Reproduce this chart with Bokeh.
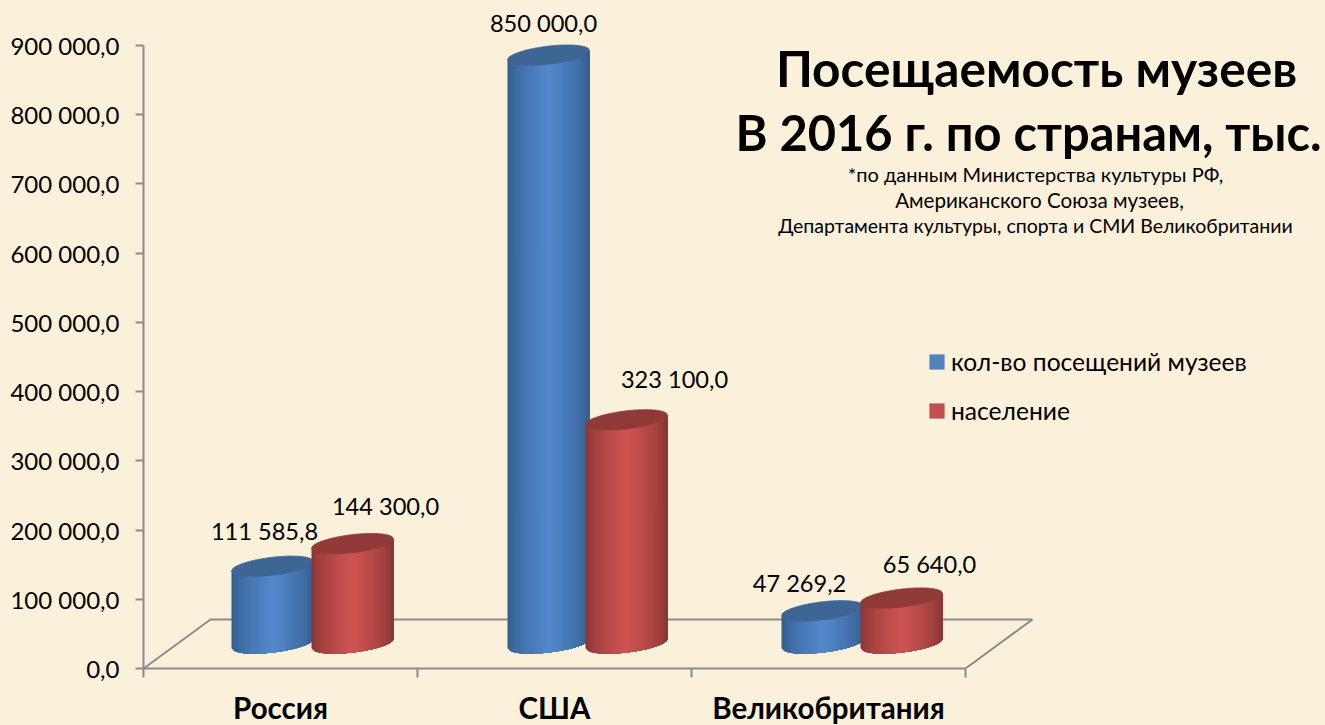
import numpy as np
from bokeh.plotting import figure
from bokeh.models import Range1d, FixedTicker, Legend, LegendItem, Label
from bokeh.core.properties import value
from bokeh.embed import file_html
from bokeh.resources import INLINE

# ---- data ----
categories = ["Россия", "США", "Великобритания"]
visits = [111585.8, 850000.0, 47269.2]
population = [144300.0, 323100.0, 65640.0]
visits_labels = ["111 585,8", "850 000,0", "47 269,2"]
population_labels = ["144 300,0", "323 100,0", "65 640,0"]
y_ticks = [0, 100000, 200000, 300000, 400000, 500000, 600000, 700000, 800000, 900000]
y_tick_labels = ["0,0", "100 000,0", "200 000,0", "300 000,0", "400 000,0",
                 "500 000,0", "600 000,0", "700 000,0", "800 000,0", "900 000,0"]
series_names = ["кол-во посещений музеев", "население"]
title_lines = ["Посещаемость музеев", "В 2016 г. по странам, тыс."]
note_lines = ["*по данным Министерства культуры РФ,", "Американского Союза музеев,",
              "Департамента культуры, спорта и СМИ Великобритании"]

# ---- layout (page pixels) ----
W, H = 1325, 725
AX_L, AX_B = 143, 668          # axis origin
PX_CAT = 274.0                 # px per category
PX_VAL = 623.0 / 900000.0      # px per value
FONT = "Lato"
BG = "#fbf1da"
AXIS = "#8b8b8b"

def dx(px):
    return px / PX_CAT

def dy(px):
    return px / PX_VAL

def X(px):
    return (px - AX_L) / PX_CAT

def Y(px):
    return (AX_B - px) / PX_VAL

p = figure(width=W, height=H, frame_width=W - AX_L, frame_height=AX_B,
           output_backend="svg", toolbar_location=None,
           x_range=Range1d(0, X(W)), y_range=Range1d(0, Y(0)),
           min_border_left=AX_L, min_border_right=0, min_border_top=0,
           min_border_bottom=H - AX_B, background_fill_color=BG,
           border_fill_color=BG, outline_line_color=None)
p.xgrid.visible = False
p.ygrid.visible = False

# ---- axes ----
ya = p.yaxis[0]
ya.ticker = FixedTicker(ticks=y_ticks)
ya.major_label_overrides = {t: s for t, s in zip(y_ticks, y_tick_labels)}
ya.bounds = (0, 900000)
ya.axis_line_color = AXIS
ya.axis_line_width = 2
ya.major_tick_line_color = AXIS
ya.major_tick_line_width = 2
ya.major_tick_in = 0
ya.major_tick_out = 8
ya.minor_tick_line_color = None
ya.major_label_standoff = 16
ya.major_label_text_font = FONT
ya.major_label_text_font_size = "24px"
ya.major_label_text_color = "#000000"

xa = p.xaxis[0]
xa.ticker = FixedTicker(ticks=[0.5, 1.5, 2.5], minor_ticks=[0, 1, 2, 3])
xa.major_label_overrides = {i + 0.5: c for i, c in enumerate(categories)}
xa.bounds = (0, 3)
xa.axis_line_color = AXIS
xa.axis_line_width = 2
xa.major_tick_line_color = None
xa.major_tick_in = 0
xa.major_tick_out = 0
xa.minor_tick_line_color = AXIS
xa.minor_tick_line_width = 2
xa.minor_tick_in = 0
xa.minor_tick_out = 9
xa.major_label_standoff = 12
xa.major_label_text_font = FONT
xa.major_label_text_font_style = "bold"
xa.major_label_text_font_size = "29.5px"
xa.major_label_text_color = "#000000"

# ---- floor ----
DEPTH_X, DEPTH_Y = dx(67), dy(49)
p.line([0, DEPTH_X, 3 + DEPTH_X, 3], [0, DEPTH_Y, DEPTH_Y, 0], line_color=AXIS, line_width=2)

# ---- cylinders ----
BAR_A = 41.0    # half width, px
BAR_B = 9.0     # half height of the top ellipse, px
SHEAR = 0.115   # rise of the ellipse towards the right
BASE = dy(25)   # base centre above the axis line
STRIPS = 40

def mix(c1, c2, t):
    return "#%02x%02x%02x" % tuple(int(round(a + (b - a) * t)) for a, b in zip(c1, c2))

def cylinder(xc_cat, val, dark, light, top):
    # each strip runs to the right edge and is painted over by the next, so no seams show
    edges = np.linspace(-1, 1, STRIPS + 1)
    xs, ys, cols = [], [], []
    for a, b in zip(edges[:-1], edges[1:]):
        u = np.linspace(a, 1, 24)
        px = u * BAR_A
        sh = -SHEAR * px
        el = BAR_B * np.sqrt(np.clip(1 - u ** 2, 0, 1))
        x_data = xc_cat + dx(1) * px
        lower = BASE + dy(1) * (-sh - el)
        upper = BASE + val + dy(1) * (-sh - el)
        xs.append(list(x_data) + list(x_data[::-1]))
        ys.append(list(lower) + list(upper[::-1]))
        t = np.clip(1 - abs((a + b) / 2), 0, 1) ** 0.6
        cols.append(mix(dark, light, t))
    p.patches(xs, ys, fill_color=cols, line_color=None)
    u = np.linspace(-1, 1, 61)
    px = u * BAR_A
    el = BAR_B * np.sqrt(1 - u ** 2)
    cx = list(xc_cat + dx(1) * px) + list((xc_cat + dx(1) * px)[::-1])
    cy = list(BASE + val + dy(1) * (SHEAR * px - el)) + list((BASE + val + dy(1) * (SHEAR * px + el))[::-1])
    p.patch(cx, cy, fill_color=top, line_color=top, line_width=0.8)

BLUE_X = [X(272), X(548), X(822)]
RED_X = [X(352), X(626), X(901)]

# flat bars below the cylinders: they also feed the legend
r_blue = p.vbar(x=BLUE_X, bottom=BASE, top=[BASE + v for v in visits], width=dx(40),
                fill_color="#4f81bd", line_color=None)
r_red = p.vbar(x=RED_X, bottom=BASE, top=[BASE + v for v in population], width=dx(40),
               fill_color="#c0504d", line_color=None)

BLUE_D, BLUE_L, BLUE_T = (48, 88, 136), (83, 136, 203), "#3d6695"
RED_D, RED_L, RED_T = (130, 50, 48), (205, 84, 82), "#8f3a38"
for xc, v, xr, w in zip(BLUE_X, visits, RED_X, population):
    cylinder(xc, v, BLUE_D, BLUE_L, BLUE_T)
    cylinder(xr, w, RED_D, RED_L, RED_T)

# ---- value labels ----
LAB_FS = "23.6px"
blue_off = [(-8, 35), (-5, 32), (-23, 28)]
red_off = [(33, 38), (48, 41), (28, 34)]
for xs_, vals, texts, offs in ((BLUE_X, visits, visits_labels, blue_off),
                               (RED_X, population, population_labels, red_off)):
    p.text(x=[x + dx(o[0]) for x, o in zip(xs_, offs)],
           y=[BASE + v + dy(o[1]) for v, o in zip(vals, offs)],
           text=texts, text_font=value(FONT), text_font_size=value(LAB_FS),
           text_color="#000000", text_align="center", text_baseline="middle")

# ---- title and note ----
for line, cx, cy, fs in zip(title_lines, (1036, 1028), (67, 131), ("49.6px", "48.8px")):
    p.add_layout(Label(x=X(cx), y=Y(cy), text=line, text_font=FONT, text_font_style="bold",
                       text_font_size=fs, text_color="#000000",
                       text_align="center", text_baseline="middle"))
for line, cx, cy, fs in zip(note_lines, (1035, 1039, 1035), (173, 199, 225), ("20px", "20.6px", "19.5px")):
    p.add_layout(Label(x=X(cx), y=Y(cy), text=line, text_font=FONT, text_font_size=fs,
                       text_color="#000000", text_align="center", text_baseline="middle"))

# ---- legend ----
legend = Legend(items=[LegendItem(label=series_names[0], renderers=[r_blue]),
                       LegendItem(label=series_names[1], renderers=[r_red])],
                location=(933 - AX_L - 6, 243), orientation="vertical",
                glyph_width=19, glyph_height=19, spacing=20, padding=6, margin=0,
                label_standoff=5, label_text_font=FONT, label_text_font_size="24.6px",
                label_text_color="#000000", label_height=19,
                background_fill_alpha=0, border_line_color=None)
p.add_layout(legend, "center")

html = file_html(p, INLINE)
html = html.replace("</head>", "<style>html,body{margin:0;padding:0;background:%s;overflow:hidden}</style></head>" % BG, 1)
open("out.html", "w").write(html)
